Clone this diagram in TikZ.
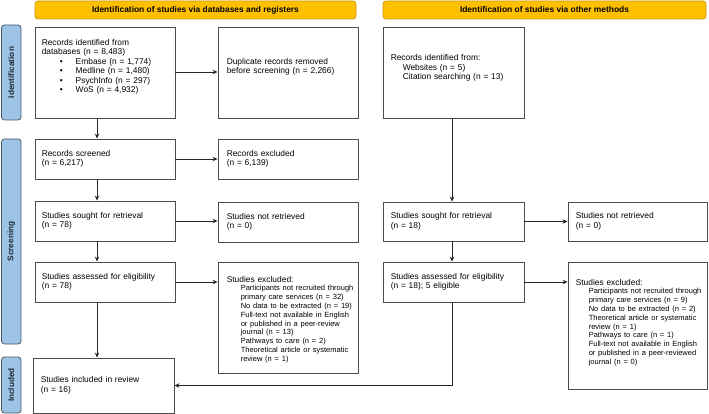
\documentclass[tikz,border=0pt]{standalone}
\usepackage{fontspec}
\setmainfont{Liberation Sans}
\usetikzlibrary{arrows.meta,calc,fit}
\definecolor{bannerfill}{HTML}{FFC000}
\definecolor{bannerline}{HTML}{C99A06}
\definecolor{sidefill}{HTML}{9DC3E6}
\definecolor{sideline}{HTML}{4A5866}
\definecolor{boxline}{HTML}{4D4D4D}
\definecolor{sidetext}{HTML}{1E2A36}
\tikzset{
  box/.style={draw=boxline, line width=0.9pt, inner sep=0pt, fill=white},
  banner/.style={draw=bannerline, fill=bannerfill, line width=0.7pt, rounded corners=3pt, inner sep=0pt,
    font=\fontsize{8.4}{9.5}\selectfont\bfseries},
  sidebox/.style={draw=sideline, fill=sidefill, line width=0.8pt, rounded corners=3pt, inner sep=0pt},
  sidetxt/.style={rotate=90, inner sep=0pt, text=sidetext, font=\fontsize{8.2}{9}\selectfont\bfseries},
  txt/.style={anchor=west, inner sep=0pt, align=left, text width=#1, font=\fontsize{8.4}{9.5}\selectfont},
  arr/.style={draw=black!85, line width=0.8pt, -{Stealth[length=5pt,width=4.5pt]}},
  ln/.style={draw=black!85, line width=0.8pt},
}
\begin{document}
\begin{tikzpicture}[x=1pt,y=-1pt]
\useasboundingbox (0,0) rectangle (709,414);

% banners
\node[banner, fit={(35,1)(356,19)}] (bl) {};
\node[inner sep=0pt, font=\fontsize{8.4}{9.5}\selectfont\bfseries] (blt) at (bl) {Identification of studies via databases and registers};
\node[banner, fit={(383,1)(706,19)}] (br) {};
\node[inner sep=0pt, font=\fontsize{8.4}{9.5}\selectfont\bfseries] (brt) at (br) {Identification of studies via other methods};

% side labels
\node[sidebox, fit={(1.5,25)(21,120)}] (sid) {};
\node[sidetxt] (sidt) at (sid) {Identification};
\node[sidebox, fit={(1.5,139)(21,344)}] (sscr) {};
\node[sidetxt] (sscrt) at (sscr) {Screening};
\node[sidebox, fit={(1.5,357)(21,413)}] (sinc) {};
\node[sidetxt] (sinct) at (sinc) {Included};

% left column boxes
\node[box, fit={(35,27)(175,118)}] (b1) {};
\node[txt=135pt] (b1t) at ([xshift=7pt,yshift=5.5pt]b1.west) {Records identified from\\
databases (n = 8,483)\\
\hspace*{18pt}\makebox[16pt][l]{•}Embase (n = 1,774)\\
\hspace*{18pt}\makebox[16pt][l]{•}Medline (n = 1,480)\\
\hspace*{18pt}\makebox[16pt][l]{•}PsychInfo (n = 297)\\
\hspace*{18pt}\makebox[16pt][l]{•}WoS (n = 4,932)};

\node[box, fit={(218,27)(358,118)}] (dup) {};
\node[txt=130pt] (dupt) at ([xshift=9pt,yshift=5.5pt]dup.west) {Duplicate records removed\\before screening (n = 2,266)};

\node[box, fit={(35,139)(175,179)}] (scr) {};
\node[txt=130pt] (scrt) at ([xshift=7pt]scr.west) {Records screened\\(n = 6,217)};
\node[box, fit={(218,139)(358,179)}] (rex) {};
\node[txt=130pt] (rext) at ([xshift=9pt]rex.west) {Records excluded\\(n = 6,139)};

\node[box, fit={(35,201)(175,241)}] (sou) {};
\node[txt=130pt] (sout) at ([xshift=7pt]sou.west) {Studies sought for retrieval\\(n = 78)};
\node[box, fit={(218,202)(358,242)}] (nr) {};
\node[txt=130pt] (nrt) at ([xshift=9pt]nr.west) {Studies not retrieved\\(n = 0)};

\node[box, fit={(35,262)(175,302)}] (ass) {};
\node[txt=130pt] (asst) at ([xshift=7pt]ass.west) {Studies assessed for eligibility\\(n = 78)};
\node[box, fit={(218,262)(358,373)}] (exl) {};
\node[txt=130pt] (exlt) at ([xshift=9pt,yshift=-2pt]exl.west) {Studies excluded:\par
\fontsize{7.5}{8.8}\selectfont\leftskip=14pt
Participants not recruited through\\
primary care services (n = 32)\\
No data to be extracted (n = 19)\\
Full-text not available in English\\
or published in a peer-review\\
journal (n = 13)\\
Pathways to care (n = 2)\\
Theoretical article or systematic\\
review (n = 1)\par};

\node[box, fit={(33,358)(174,413)}] (inc) {};
\node[txt=130pt] (inct) at ([xshift=8pt]inc.west) {Studies included in review\\(n = 16)};

% right column boxes
\node[box, fit={(383,27)(524,118)}] (r1) {};
\node[txt=130pt] (r1t) at ([xshift=8pt,yshift=4.5pt]r1.west) {Records identified from:\\
\hspace*{12pt}Websites (n = 5)\\
\hspace*{12pt}Citation searching (n = 13)};

\node[box, fit={(383,202)(524,241)}] (rsou) {};
\node[txt=130pt] (rsout) at ([xshift=8pt]rsou.west) {Studies sought for retrieval\\(n = 18)};
\node[box, fit={(568,202)(707.5,241)}] (rnr) {};
\node[txt=130pt] (rnrt) at ([xshift=8pt]rnr.west) {Studies not retrieved\\(n = 0)};

\node[box, fit={(383,262)(524,302)}] (rass) {};
\node[txt=130pt] (rasst) at ([xshift=8pt]rass.west) {Studies assessed for eligibility\\(n = 18); 5 eligible};
\node[box, fit={(568,262)(707.5,389)}] (rexl) {};
\node[txt=130pt] (rexlt) at ([xshift=8pt,yshift=3pt]rexl.west) {Studies excluded:\par
\fontsize{7.5}{8.8}\selectfont\leftskip=13pt
Participants not recruited through\\
primary care services (n = 9)\\
No data to be extracted (n = 2)\\
Theoretical article or systematic\\
review (n = 1)\\
Pathways to care (n = 1)\\
Full-text not available in English\\
or published in a peer-reviewed\\
journal (n = 0)\par};

% connectors
\coordinate (lx) at (97,0);
\coordinate (rx) at (452,0);
\draw[arr] (b1.east |- 0,72) -- (dup.west |- 0,72);
\draw[arr] (scr.east) -- (rex.west |- scr.east);
\draw[arr] (sou.east) -- (nr.west |- sou.east);
\draw[arr] (ass.east) -- (exl.west |- ass.east);
\draw[arr] (b1.south -| lx) -- (scr.north -| lx);
\draw[arr] (scr.south -| lx) -- (sou.north -| lx);
\draw[arr] (sou.south -| lx) -- (ass.north -| lx);
\draw[arr] (ass.south -| lx) -- (inc.north -| lx);

\draw[arr] (rsou.east) -- (rnr.west |- rsou.east);
\draw[arr] (rass.east) -- (rexl.west |- rass.east);
\draw[arr] (r1.south -| rx) -- (rsou.north -| rx);
\draw[arr] (rsou.south -| rx) -- (rass.north -| rx);
\draw[arr] (rass.south -| rx) |- (inc.east);
\end{tikzpicture}
\end{document}
